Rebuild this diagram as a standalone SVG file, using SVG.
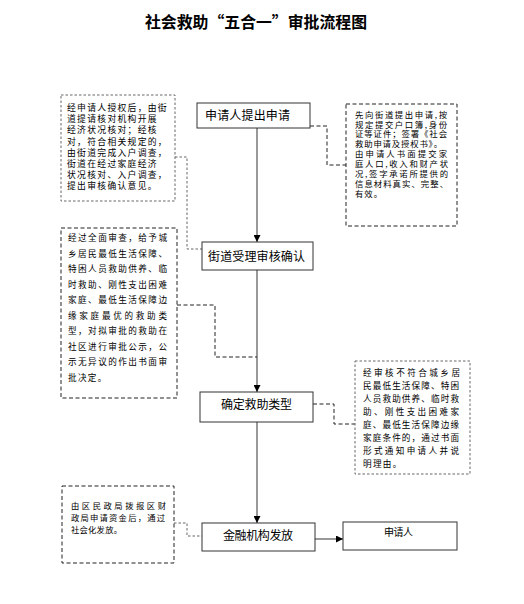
<svg xmlns="http://www.w3.org/2000/svg" width="524" height="604" viewBox="0 0 524 604">
<defs>
<marker id="arr" viewBox="0 0 8 8" refX="8" refY="4" markerWidth="7" markerHeight="7" markerUnits="userSpaceOnUse" orient="auto">
<path d="M0,0 L8,4 L0,8 Z" fill="#000"/>
</marker>
<style>
.box{fill:#fff;stroke:#333;stroke-width:1}
.dk{fill:#fff;stroke:#222;stroke-width:1;stroke-dasharray:4 2.5}
.gy{fill:#fff;stroke:#666;stroke-width:1;stroke-dasharray:2.5 2}
.cdk{fill:none;stroke:#222;stroke-width:1;stroke-dasharray:4 2.5}
.cgy{fill:none;stroke:#666;stroke-width:1;stroke-dasharray:2.5 2}
.ar{fill:none;stroke:#555;stroke-width:1.2;marker-end:url(#arr)}
.lbl{font-family:"Noto Sans CJK SC","Liberation Sans",sans-serif;font-size:12px;fill:#000}
.sm{font-family:"Noto Sans CJK SC","Liberation Sans",sans-serif;font-size:8.6px;fill:#000}
.title{font-family:"Noto Sans CJK SC",sans-serif;font-size:16px;font-weight:bold;fill:#000}
</style>
</defs>
<rect width="524" height="604" fill="#fff"/>
<text class="title" x="145" y="28" textLength="222" lengthAdjust="spacingAndGlyphs">社会救助“五合一”审批流程图</text>

<g id="connectors">
<line class="ar" x1="257" y1="128" x2="257" y2="242"/>
<line class="ar" x1="257" y1="270" x2="257" y2="392"/>
<line class="ar" x1="257" y1="422" x2="257" y2="523"/>
<line class="ar" x1="315" y1="539" x2="343" y2="539"/>
<polyline class="cdk" points="310,126 327,126 327,165 346,165"/>
<polyline class="cgy" points="175,157 187,157 187,249 202,249"/>
<polyline class="cdk" points="177,305 215,305 215,357 257,357"/>
<polyline class="cdk" points="313,404 334,404 334,424 355,424"/>
<polyline class="cgy" points="174,523 187,523 187,536 202,536"/>
</g>

<g id="n1"><rect class="box" x="197" y="103" width="113" height="25"/><text class="lbl" x="205" y="120" textLength="85">申请人提出申请</text></g>
<g id="n2"><rect class="box" x="202" y="242" width="111" height="28"/><text class="lbl" x="208" y="261" textLength="97">街道受理审核确认</text></g>
<g id="n3"><rect class="box" x="200" y="392" width="113" height="30"/><text class="lbl" x="221" y="409" textLength="71">确定救助类型</text></g>
<g id="n4"><rect class="box" x="202" y="523" width="113" height="28"/><text class="lbl" x="223" y="540" textLength="70">金融机构发放</text></g>
<g id="n5"><rect class="box" x="343" y="522" width="114" height="28"/><text class="lbl" x="384" y="536" style="font-size:10px" textLength="29">申请人</text></g>

<g id="note1">
<rect class="gy" x="61" y="95" width="114" height="106"/>
<g class="sm" style="font-size:8.8px;letter-spacing:1.3px">
<text x="67" y="111">经申请人授权后，由街</text>
<text x="67" y="122">道提请核对机构开展</text>
<text x="67" y="133">经济状况核对；经核</text>
<text x="67" y="144.5">对，符合相关规定的，</text>
<text x="67" y="155.5">由街道完成入户调查，</text>
<text x="67" y="166.5">街道在经过家庭经济</text>
<text x="67" y="178">状况核对、入户调查，</text>
<text x="67" y="189">提出审核确认意见。</text>
</g>
</g>

<g id="note2">
<rect class="dk" x="346" y="104" width="111" height="122"/>
<g class="sm" style="font-size:8.4px">
<text x="355" y="117.5" textLength="92">先向街道提出申请,按</text>
<text x="355" y="127.5" textLength="92">规定提交户口簿,身份</text>
<text x="355" y="137" textLength="92">证等证件；签署《社会</text>
<text x="355" y="147" textLength="87">救助申请及授权书》。</text>
<text x="355" y="157" textLength="92">由申请人书面提交家</text>
<text x="355" y="167" textLength="93">庭人口,收入和财产状</text>
<text x="355" y="177" textLength="93">况,签字承诺所提供的</text>
<text x="355" y="187" textLength="93">信息材料真实、完整、</text>
<text x="355" y="197" letter-spacing="1">有效。</text>
</g>
</g>

<g id="note3">
<rect class="dk" x="61" y="228" width="116" height="170"/>
<g class="sm">
<text x="68" y="241" textLength="99">经过全面审查，给予城</text>
<text x="68" y="256.5" textLength="99">乡居民最低生活保障、</text>
<text x="68" y="272" textLength="99">特困人员救助供养、临</text>
<text x="68" y="287.5" textLength="99">时救助、刚性支出困难</text>
<text x="68" y="303" textLength="99">家庭、最低生活保障边</text>
<text x="68" y="318.5" textLength="99">缘家庭最优的救助类</text>
<text x="68" y="334" textLength="99">型，对拟审批的救助在</text>
<text x="68" y="349.5" textLength="99">社区进行审批公示，公</text>
<text x="68" y="365" textLength="99">示无异议的作出书面审</text>
<text x="68" y="380.5" letter-spacing="1.3">批决定。</text>
</g>
</g>

<g id="note4">
<rect class="gy" x="355" y="361" width="115" height="113"/>
<g class="sm">
<text x="363" y="375.5" textLength="97">经审核不符合城乡居</text>
<text x="363" y="388.5" textLength="96">民最低生活保障、特困</text>
<text x="363" y="401.5" textLength="96">人员救助供养、临时救</text>
<text x="363" y="414.5" textLength="96">助、刚性支出困难家</text>
<text x="363" y="427.5" textLength="96">庭、最低生活保障边缘</text>
<text x="363" y="440.5" textLength="96">家庭条件的，通过书面</text>
<text x="363" y="453.5" textLength="96">形式通知申请人并说</text>
<text x="363" y="466.5" letter-spacing="1.3">明理由。</text>
</g>
</g>

<g id="note5">
<rect class="dk" x="62" y="486" width="112" height="77"/>
<g class="sm" style="font-size:8.3px">
<text x="71" y="509" textLength="95">由区民政局拨报区财</text>
<text x="71" y="521" textLength="94">政局申请资金后，通过</text>
<text x="71" y="532.5" textLength="51">社会化发放。</text>
</g>
</g>
</svg>
